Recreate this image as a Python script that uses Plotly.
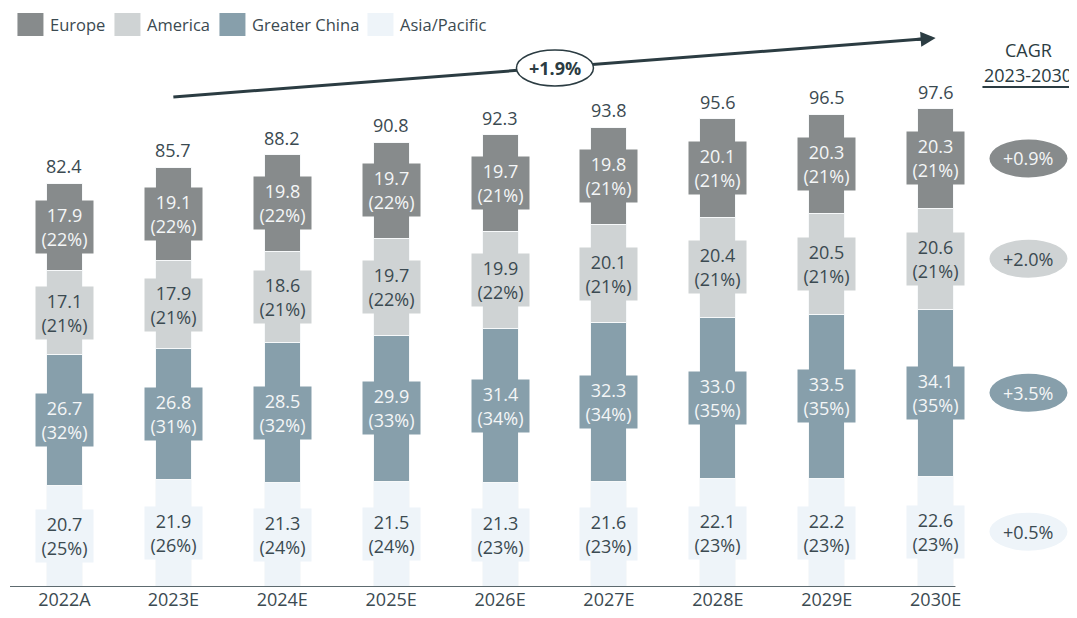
import plotly.graph_objects as go

years = ["2022A", "2023E", "2024E", "2025E", "2026E", "2027E", "2028E", "2029E", "2030E"]
totals = [82.4, 85.7, 88.2, 90.8, 92.3, 93.8, 95.6, 96.5, 97.6]

asia_pac = [20.7, 21.9, 21.3, 21.5, 21.3, 21.6, 22.1, 22.2, 22.6]
asia_pac_pct = [25, 26, 24, 24, 23, 23, 23, 23, 23]
china = [26.7, 26.8, 28.5, 29.9, 31.4, 32.3, 33.0, 33.5, 34.1]
china_pct = [32, 31, 32, 33, 34, 34, 35, 35, 35]
america = [17.1, 17.9, 18.6, 19.7, 19.9, 20.1, 20.4, 20.5, 20.6]
america_pct = [21, 21, 21, 22, 22, 21, 21, 21, 21]
europe = [17.9, 19.1, 19.8, 19.7, 19.7, 19.8, 20.1, 20.3, 20.3]
europe_pct = [22, 22, 22, 22, 21, 21, 21, 21, 21]

cagr_labels = ["+0.5%", "+3.5%", "+2.0%", "+0.9%"]
total_cagr = "+1.9%"

FONT = "Open Sans"
DARK = "#2b3c42"
TXT = "#3b4a51"
FS = 18

# bottom-to-top stacking order
series = [
    ("Asia/Pacific", asia_pac, asia_pac_pct, "#eef4f9", TXT),
    ("Greater China", china, china_pct, "#879fab", "#f4f6f7"),
    ("America", america, america_pct, "#cfd3d4", TXT),
    ("Europe", europe, europe_pct, "#878b8c", "#f4f6f7"),
]

# page body has an 8px margin, so the figure sits 8px in from the window corner
OFF = 8
PX_PER_CAT = 108.9
PX_PER_UNIT = 4.9
BASE_PX = 587          # baseline, in window pixels
LEFT_PX = 10           # left edge of category -0.5, in window pixels


def xd(px):
    return (px - 64) / PX_PER_CAT


def yd(py):
    return (BASE_PX - py) / PX_PER_UNIT


fig = go.Figure()
annotations = []
shapes = []

base = [0.0] * len(years)
for name, vals, pcts, color, tcol in series:
    fig.add_trace(go.Bar(
        x=years, y=vals, name=name, width=0.33,
        marker=dict(color=color, line=dict(color="#f7f9fa", width=1)),
        hoverinfo="skip",
    ))
    for i, (v, p) in enumerate(zip(vals, pcts)):
        annotations.append(dict(
            x=i, y=base[i] + v / 2, xref="x", yref="y",
            text=f"{v:.1f}<br>({p}%)", showarrow=False,
            font=dict(family=FONT, size=FS, color=tcol),
            bgcolor=color, width=57, height=52, borderpad=0,
        ))
        base[i] += v

# totals above bars
for i, t in enumerate(totals):
    annotations.append(dict(
        x=i, y=t, xref="x", yref="y", yanchor="bottom", yshift=3,
        text=f"{t:.1f}", showarrow=False,
        font=dict(family=FONT, size=FS, color=TXT),
    ))

# baseline
shapes.append(dict(type="line", xref="x", yref="y", x0=-0.5, x1=xd(955), y0=0, y1=0,
                   line=dict(color="#5d6a6f", width=2), layer="above"))

# overall growth arrow
shapes.append(dict(type="line", xref="x", yref="y", x0=1, y0=yd(97), x1=xd(925), y1=yd(38.8),
                   line=dict(color=DARK, width=3), layer="above"))
annotations.append(dict(
    x=8, y=yd(38), xref="x", yref="y", ax=-22, ay=1.7, axref="pixel", ayref="pixel",
    text=" ", showarrow=True, arrowhead=2, arrowsize=1, arrowwidth=3, arrowcolor=DARK,
    standoff=0,
))
shapes.append(dict(type="circle", xref="x", yref="y",
                   x0=xd(516), x1=xd(593), y0=yd(86), y1=yd(50),
                   fillcolor="white", line=dict(color=DARK, width=1.5), layer="above"))
annotations.append(dict(
    x=xd(554.5), y=yd(68), xref="x", yref="y", text=f"<b>{total_cagr}</b>", showarrow=False,
    font=dict(family=FONT, size=FS, color=DARK),
))

# CAGR column
annotations.append(dict(
    x=xd(1028), y=yd(50), xref="x", yref="y", text="CAGR", showarrow=False,
    font=dict(family=FONT, size=FS, color=DARK),
))
annotations.append(dict(
    x=xd(1028), y=yd(75), xref="x", yref="y", text="2023-2030", showarrow=False,
    font=dict(family=FONT, size=FS, color=DARK),
))
shapes.append(dict(type="line", xref="x", yref="y", x0=xd(982), x1=xd(1074), y0=yd(87), y1=yd(87),
                   line=dict(color=DARK, width=2), layer="above"))

last = len(years) - 1
b = 0.0
for (name, vals, pcts, color, tcol), lab in zip(series, cagr_labels):
    mid = b + vals[last] / 2
    b += vals[last]
    shapes.append(dict(type="circle", xref="x", yref="y",
                       x0=xd(989), x1=xd(1067), y0=mid - 19 / PX_PER_UNIT, y1=mid + 19 / PX_PER_UNIT,
                       fillcolor=color, line=dict(width=0), layer="above"))
    annotations.append(dict(
        x=xd(1028), y=mid, xref="x", yref="y", text=lab, showarrow=False,
        font=dict(family=FONT, size=FS, color=tcol),
    ))

# custom legend with large swatches
leg_items = [("Europe", "#878b8c", 17), ("America", "#cfd3d4", 114),
             ("Greater China", "#879fab", 219), ("Asia/Pacific", "#eef4f9", 367)]
for name, color, px0 in leg_items:
    shapes.append(dict(type="rect", xref="x", yref="y", x0=xd(px0), x1=xd(px0 + 26),
                       y0=yd(36), y1=yd(13), fillcolor=color, line=dict(width=0), layer="above"))
    annotations.append(dict(
        x=xd(px0 + 31), y=yd(24.5), xref="x", yref="y", xanchor="left", text=name,
        showarrow=False, font=dict(family=FONT, size=16.5, color=TXT),
    ))

W, H = 1077, 618
ml = LEFT_PX - OFF
mb = H - (BASE_PX - OFF)
plot_w = W - ml
plot_h = BASE_PX - OFF

fig.update_layout(
    barmode="stack", showlegend=False,
    width=W, height=H, margin=dict(l=ml, r=0, t=0, b=mb),
    plot_bgcolor="white", paper_bgcolor="white",
    font=dict(family=FONT, color=TXT),
    xaxis=dict(range=[-0.5, -0.5 + plot_w / PX_PER_CAT], showgrid=False, zeroline=False,
               showline=False, ticks="", tickfont=dict(size=FS, color=TXT),
               fixedrange=True),
    yaxis=dict(range=[0, plot_h / PX_PER_UNIT], visible=False, fixedrange=True),
    annotations=annotations, shapes=shapes,
)

fig.write_html("out.html")
